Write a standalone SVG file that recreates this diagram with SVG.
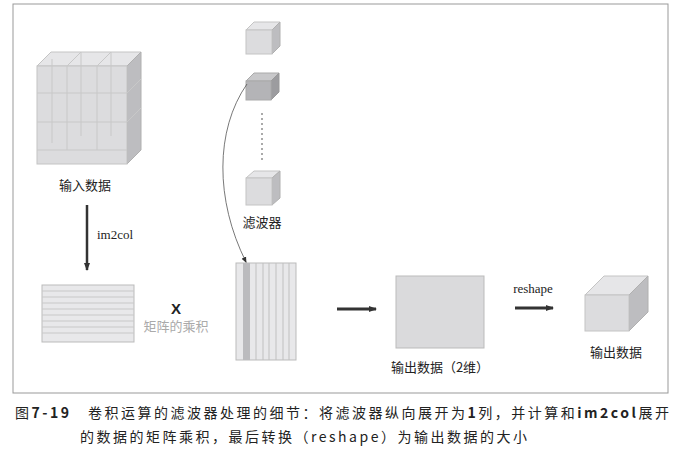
<svg xmlns="http://www.w3.org/2000/svg" width="682" height="460" viewBox="0 0 682 460">
<style>
text{font-family:"Noto Sans CJK SC","Liberation Serif",serif;fill:#222}
.lbl{font-size:13px;text-anchor:middle}
.cap{font-size:14px;letter-spacing:2.5px}
.f{fill:#dcdcde;stroke:#c4c4c4;stroke-width:1}
.t{fill:#e6e6e8;stroke:#c4c4c4;stroke-width:1}
.s{fill:#bdbdc0;stroke:#b0b0b0;stroke-width:1}
.g{fill:none;stroke:#c8c8c8;stroke-width:1}
</style>
<defs>
<marker id="ah" markerWidth="8" markerHeight="8" refX="7" refY="4" orient="auto" markerUnits="userSpaceOnUse"><path d="M0,1 L8,4 L0,7 Z" fill="#333"/></marker>
<marker id="as" markerWidth="6" markerHeight="6" refX="5" refY="3" orient="auto" markerUnits="userSpaceOnUse"><path d="M0,0.5 L6,3 L0,5.5 Z" fill="#333"/></marker>
</defs>
<rect x="13" y="4" width="655" height="389" fill="#fff" stroke="#999"/>
<g id="input">
<polygon class="t" points="37,66 51,52 141,52 127,66"/>
<polygon class="s" points="127,66 141,52 141,150 127,164"/>
<rect class="f" x="37" y="66" width="90" height="98"/>
<path class="g" d="M67,66V150M97,66V150M37,93H127M37,122H127M37,150H127M67,66L81,52M97,66L111,52M127,93L141,79M127,122L141,108M52,59V143M81,52V136M111,52V136"/>
<text class="lbl" x="85" y="190">输入数据</text>
</g>
<g id="mat1">
<rect x="42" y="285" width="92" height="57" fill="#e8e8ea" stroke="#bbb"/>
<path class="g" d="M42,291H134M42,297H134M42,303H134M42,309H134M42,315H134M42,321H134M42,327H134M42,333H134" stroke="#aaa"/>
</g>
<g id="times">
<text x="176" y="314" font-size="15" text-anchor="middle" style="font-family:'Liberation Sans',sans-serif" font-weight="bold">X</text>
<text class="lbl" x="176" y="331" style="fill:#aaa">矩阵的乘积</text>
</g>
<g id="filters">
<polygon class="t" points="246,30 254,22 280,22 272,30"/>
<polygon class="s" points="272,30 280,22 280,46 272,54"/>
<rect class="f" x="246" y="30" width="26" height="24"/>
<polygon points="246,81 254,73 279,73 271,81" fill="#c8c8ca" stroke="#aaa"/>
<polygon points="271,81 279,73 279,92 271,100" fill="#9c9c9f" stroke="#999"/>
<rect x="246" y="81" width="25" height="19" fill="#b4b4b7" stroke="#aaa"/>
<line x1="262" y1="113" x2="262" y2="160" stroke="#aaa" stroke-width="2" stroke-dasharray="2,3"/>
<polygon class="t" points="246,178 254,171 280,171 272,178"/>
<polygon class="s" points="272,178 280,171 280,198 272,205"/>
<rect class="f" x="246" y="178" width="26" height="27"/>
<text class="lbl" x="262" y="227">滤波器</text>
</g>
<g id="mat2">
<rect x="236" y="263" width="60" height="97" fill="#e8e8ea" stroke="#bbb"/>
<rect x="243" y="263" width="7" height="97" fill="#bbbbbe"/>
<path d="M256,263V360M263,263V360M269,263V360M276,263V360M283,263V360M289,263V360" stroke="#c0c0c0"/>
</g>
<g id="out2d">
<rect x="396" y="276" width="88" height="72" fill="#dadadc" stroke="#bbb"/>
<text class="lbl" x="440" y="372">输出数据（2维）</text>
</g>
<g id="out3d">
<polygon class="t" points="585,295 604,276 648,276 629,295"/>
<polygon class="s" points="629,295 648,276 648,312 629,331"/>
<rect class="f" x="585" y="295" width="44" height="36"/>
<text class="lbl" x="616" y="357">输出数据</text>
</g>
<g id="connectors">
<line x1="87" y1="205" x2="87" y2="270" stroke="#333" stroke-width="2.5" marker-end="url(#ah)"/>
<text x="97" y="239" font-size="13" style="font-family:'Liberation Serif',serif">im2col</text>
<path d="M247,84 C215,130 215,200 246,262" fill="none" stroke="#555" stroke-width="0.8" marker-end="url(#as)"/>
<line x1="337" y1="309" x2="376" y2="309" stroke="#333" stroke-width="3" marker-end="url(#ah)"/>
<line x1="515" y1="308" x2="553" y2="308" stroke="#333" stroke-width="3" marker-end="url(#ah)"/>
<text x="533" y="293" font-size="13" text-anchor="middle" style="font-family:'Liberation Serif',serif">reshape</text>
</g>
<text class="cap" x="15" y="418">图<tspan font-weight="bold">7-19</tspan>　卷积运算的滤波器处理的细节：将滤波器纵向展开为<tspan font-weight="bold">1</tspan>列，并计算和<tspan font-weight="bold">im2col</tspan>展开</text>
<text class="cap" x="80" y="442">的数据的矩阵乘积，最后转换（reshape）为输出数据的大小</text>
</svg>
